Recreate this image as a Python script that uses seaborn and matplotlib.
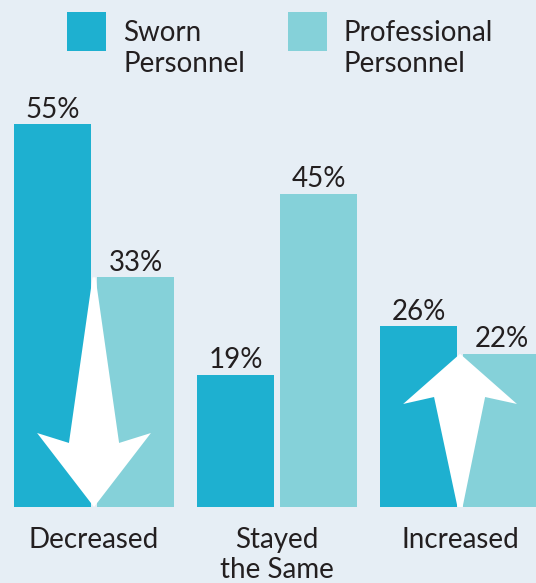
import matplotlib
matplotlib.use("Agg")
import numpy as np
import pandas as pd
import matplotlib.pyplot as plt
from matplotlib.patches import Polygon, Rectangle
import seaborn as sns

# data
categories = ["Decreased", "Stayed\nthe Same", "Increased"]
groups = ["Sworn\nPersonnel", "Professional\nPersonnel"]
sworn = [55, 19, 26]
professional = [33, 45, 22]

BG = "#e6eef5"
COLORS = ["#1eb0d0", "#85d1d9"]
TXT = "#231f20"

sns.set_style("white")
plt.rcParams["font.family"] = ["Lato", "DejaVu Sans"]

df = pd.DataFrame({
    "category": categories * 2,
    "group": [groups[0]] * 3 + [groups[1]] * 3,
    "value": sworn + professional,
})

fig = plt.figure(figsize=(5.36, 5.83), dpi=100, facecolor=BG)
ax = fig.add_axes([0, 0, 1, 1])
ax.set_facecolor(BG)

sns.barplot(data=df, x="category", y="value", hue="group", palette=COLORS,
            order=categories, hue_order=groups, width=0.907, gap=0.0723,
            saturation=1, legend=False, errorbar=None, ax=ax, zorder=1,
            linewidth=0, edgecolor="none")

for cont in ax.containers:
    ax.bar_label(cont, labels=[f"{v:.0f}%" for v in cont.datavalues],
                 padding=1, fontsize=20, color=TXT)

# arrows (white, drawn on top of the bars)
down = Polygon([(-0.008, professional[0]), (0.008, professional[0]),
                (0.137, 9.2), (0.311, 10.63), (0.0, 0.0),
                (-0.311, 10.63), (-0.137, 9.2)],
               closed=True, facecolor="white", edgecolor="none", zorder=3)
up = Polygon([(2 - 0.014, 0.0), (2 + 0.014, 0.0), (2 + 0.137, 15.8),
              (2 + 0.311, 14.8), (2.0, professional[2]),
              (2 - 0.311, 14.8), (2 - 0.142, 15.8)],
             closed=True, facecolor="white", edgecolor="none", zorder=3)
ax.add_patch(down)
ax.add_patch(up)

for i, cat in enumerate(categories):
    ax.text(i, -2.87, cat, ha="center", va="top", fontsize=20, color=TXT,
            linespacing=1.2)

ax.set_xlim(-0.5137, 2.415)
ax.set_ylim(-10.92, 72.84)
ax.axis("off")

# legend, built by hand
W, H = 536, 583
for (x0, tx), g, c in zip([(67, 123), (288, 343)], groups, COLORS):
    fig.add_artist(Rectangle((x0 / W, 1 - 51 / H), 39 / W, 39 / H,
                             transform=fig.transFigure, facecolor=c,
                             edgecolor="none"))
    fig.text(tx / W, 1 - 20 / H, g, ha="left", va="top", fontsize=20,
             color=TXT, linespacing=1.24)

fig.savefig("out.png", dpi=100, facecolor=BG)
